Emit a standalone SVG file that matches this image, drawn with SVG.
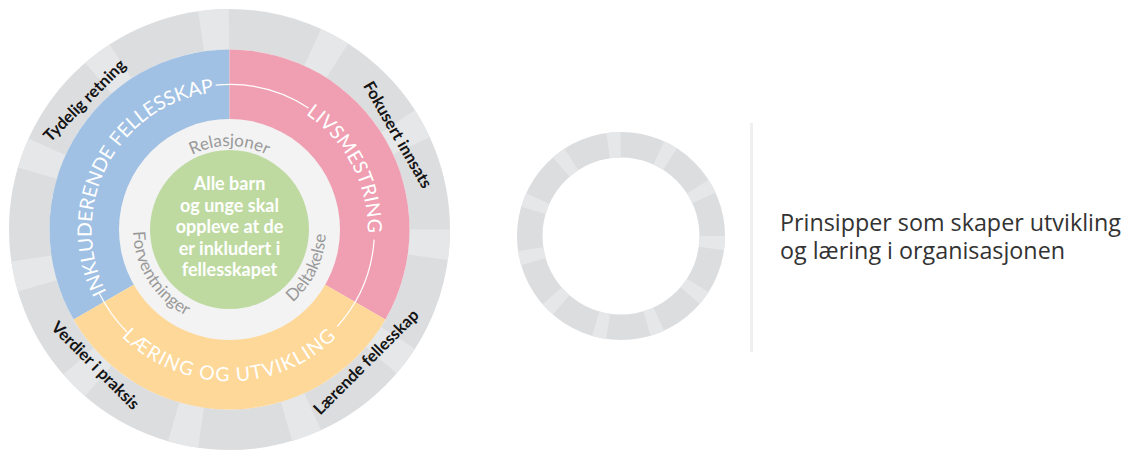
<svg xmlns="http://www.w3.org/2000/svg" width="1134" height="450" viewBox="0 0 1134 450">
<defs>
<style>
.ringbase{fill:none;stroke:#dcdddf}
.ringgap{fill:none;stroke:#e6e7e8}
.arcT{font-family:Lato,"Noto Sans",sans-serif;font-size:19.5px;fill:#ffffff;text-anchor:middle}
.inner{font-family:Lato,"Noto Sans",sans-serif;font-size:17px;fill:#999999;text-anchor:middle}
.outer{font-family:Lato,"Noto Sans",sans-serif;font-size:16.5px;font-weight:700;fill:#141414;text-anchor:middle}
.core{font-family:Lato,"Noto Sans",sans-serif;font-size:18px;font-weight:700;fill:#ffffff;text-anchor:middle}
.wl{fill:none;stroke:#ffffff;stroke-width:1.2}
.side{font-family:"Open Sans","Noto Sans",sans-serif;font-size:23.3px;fill:#333333}
</style>
<path id="pInk" d="M144.0,338.0 A138.2,138.2 0 0 1 273.0,98.4"/>
<path id="pLiv" d="M211.46,92.49 A138.2,138.2 0 0 1 331.39,322.87"/>
<path id="pLar" d="M80.0,255.9 A151.8,151.8 0 0 0 379.0,255.9"/>
<path id="pRel" d="M151.04,200.94 A83.5,83.5 0 0 1 307.96,200.94"/>
<path id="pDel" d="M219.41,325.47 A96.5,96.5 0 0 0 298.91,162.46"/>
<path id="pFor" d="M153.15,170.49 A96.5,96.5 0 0 0 250.06,323.78"/>
</defs>

<g id="outer-ring">
<circle class="ringbase" cx="229.5" cy="229.5" r="200.25" stroke-width="40.5"/>
<circle class="ringgap" cx="229.5" cy="229.5" r="200.25" stroke-width="40.5" pathLength="360" stroke-dasharray="8 24.7273"/>
</g>

<g id="sector-inkluderende">
<path d="M229.5,229.5 L73.62,319.5 A180,180 0 0 1 229.5,49.5 Z" fill="#a0c1e4"/>
</g>
<g id="sector-livsmestring">
<path d="M229.5,229.5 L229.5,49.5 A180,180 0 0 1 385.38,319.5 Z" fill="#f09fb2"/>
</g>
<g id="sector-laering">
<path d="M229.5,229.5 L385.38,319.5 A180,180 0 0 1 73.62,319.5 Z" fill="#fed898"/>
</g>

<g id="inner-ring">
<circle cx="229.5" cy="229.5" r="110.5" fill="#f3f3f3"/>
</g>

<g id="connectors">
<path class="wl" d="M215.6,85.2 A145,145 0 0 1 308.5,107.9"/>
<path class="wl" d="M374.15,239.6 A145,145 0 0 1 337.26,326.5"/>
<path class="wl" d="M126.97,332.03 A145,145 0 0 1 99.17,293.06"/>
</g>

<g id="label-inkluderende"><text class="arcT" font-size="19"><textPath href="#pInk" startOffset="50%">INKLUDERENDE FELLESSKAP</textPath></text></g>
<g id="label-livsmestring"><text class="arcT" letter-spacing="0.2"><textPath href="#pLiv" startOffset="50%">LIVSMESTRING</textPath></text></g>
<g id="label-laering"><text class="arcT" letter-spacing="1.2"><textPath href="#pLar" startOffset="50%">LÆRING OG UTVIKLING</textPath></text></g>

<g id="label-relasjoner"><text class="inner"><textPath href="#pRel" startOffset="50%">Relasjoner</textPath></text></g>
<g id="label-deltakelse"><text class="inner"><textPath href="#pDel" startOffset="50%">Deltakelse</textPath></text></g>
<g id="label-forventninger"><text class="inner"><textPath href="#pFor" startOffset="50%">Forventninger</textPath></text></g>

<g id="core">
<circle cx="229.5" cy="229.5" r="79.5" fill="#bedaa1"/>
<text class="core"><tspan x="229.5" y="190">Alle barn</tspan><tspan x="229.5" y="211.7">og unge skal</tspan><tspan x="229.5" y="233.3">oppleve at de</tspan><tspan x="229.5" y="254.5">er inkludert i</tspan><tspan x="229.5" y="276">fellesskapet</tspan></text>
</g>

<g id="principle-tydelig"><text class="outer" transform="translate(88.5,104.5) rotate(-45)">Tydelig retning</text></g>
<g id="principle-fokusert"><text class="outer" transform="translate(392.7,137.5) rotate(60)">Fokusert innsats</text></g>
<g id="principle-laerende"><text class="outer" transform="translate(370,366) rotate(-45)">Lærende fellesskap</text></g>
<g id="principle-verdier"><text class="outer" transform="translate(91.5,369.5) rotate(45)">Verdier i praksis</text></g>

<g id="legend-ring">
<circle class="ringbase" cx="621" cy="236" r="91.25" stroke-width="25.5"/>
<circle class="ringgap" cx="621" cy="236" r="91.25" stroke-width="25.5" pathLength="360" stroke-dasharray="8 24.7273"/>
</g>

<g id="legend-divider">
<rect x="750" y="123" width="3" height="229" fill="#efefef"/>
</g>

<g id="legend-text">
<text class="side"><tspan x="780" y="231">Prinsipper som skaper utvikling</tspan><tspan x="780" y="258.5">og læring i organisasjonen</tspan></text>
</g>
</svg>
